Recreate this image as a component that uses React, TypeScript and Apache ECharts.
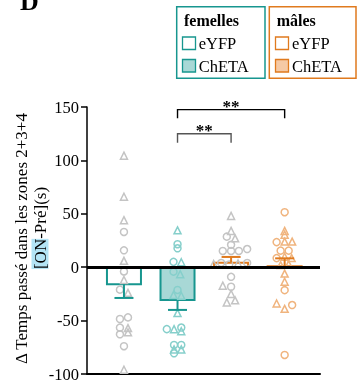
import React, { useEffect, useRef } from 'react';
import * as echarts from 'echarts';

// ---- data ----
const groupNames = ['femelles eYFP', 'femelles ChETA', 'mâles eYFP', 'mâles ChETA'];
const barMeans = [-15.9, -30.7, 4.2, 0.8];
const errorEnds = [-28.8, -40.0, 9.6, 8.3];

const femEyfpValues = [104.4, 66, 44, 33, 15.8, 6, -4, -12, -21, -24, -48.5, -47, -56.6, -57, -62.8, -61, -74, -96];
const femEyfpOffsets = [0, 0, 0, 0, 0, 0, 0, 0, -0.075, 0.075, -0.075, 0.075, -0.075, 0.075, -0.075, 0.075, 0, 0];
const femEyfpShapes = ['t', 't', 't', 'c', 'c', 't', 'c', 't', 'c', 't', 'c', 'c', 'c', 't', 'c', 't', 'c', 't'];

const femChetaValues = [34.5, 21.5, 17.7, 5, 4.6, -4.2, -6.5, -21.3, -26, -26.7, -43, -58, -58, -56.5, -60, -72.8, -72.8, -77, -77, -80.6];
const femChetaOffsets = [0, 0, 0, -0.075, 0.07, -0.075, 0.05, 0, -0.075, 0.07, 0, -0.2, -0.065, 0.07, 0.07, -0.065, 0.07, -0.065, 0.07, -0.065];
const femChetaShapes = ['t', 'c', 'c', 'c', 't', 'c', 't', 'c', 't', 't', 't', 'c', 't', 'c', 't', 'c', 'c', 't', 't', 'c'];

const malEyfpValues = [48, 34, 28.6, 27, 21, 15.2, 15.2, 15.2, 17, 3, 4, 2.5, 3.5, 4, -9, -17.3, -18.3, -25, -33, -31];
const malEyfpOffsets = [0, 0, -0.08, 0.075, 0, -0.155, 0, 0.145, 0.3, -0.325, -0.185, -0.035, 0.13, 0.3, 0, -0.155, 0, 0, -0.08, 0.075];
const malEyfpShapes = ['t', 't', 'c', 't', 'c', 'c', 'c', 'c', 'c', 't', 'c', 'c', 't', 'c', 'c', 't', 'c', 't', 't', 't'];

const malChetaValues = [51.5, 34, 30.5, 23.5, 24, 24, 15.5, 15.5, 8.5, 9.8, 8.5, 2, 2.7, -6, -13.6, -21.5, -34, -39, -35.4, -82.2];
const malChetaOffsets = [0, 0, 0, -0.15, 0, 0.14, -0.075, 0.075, -0.15, 0, 0.13, -0.075, 0.075, 0, 0, 0, -0.15, 0, 0.14, 0];
const malChetaShapes = ['c', 't', 't', 'c', 't', 't', 'c', 'c', 'c', 't', 't', 't', 't', 't', 't', 'c', 't', 't', 'c', 'c'];

const yTicks = [-100, -50, 0, 50, 100, 150];

const bracketFrom = [1, 1];
const bracketTo = [3, 2];
const bracketLevel = [147.5, 125];
const bracketDrop = [139.5, 116.5];
const bracketLabels = ['**', '**'];

// ---- styles ----
const FONT = '"Liberation Serif", "Times New Roman", serif';
const TEAL = '#17968f';
const ORANGE = '#e07a1e';
const barFills = ['#ffffff', '#a8d8d6', '#ffffff', '#f5c9a5'];
const barStrokes = [TEAL, TEAL, ORANGE, ORANGE];
const pointColors = ['#c4c4c4', '#86cfcb', '#c4c4c4', '#f0b47e'];

const groups = [
  { values: femEyfpValues, offsets: femEyfpOffsets, shapes: femEyfpShapes },
  { values: femChetaValues, offsets: femChetaOffsets, shapes: femChetaShapes },
  { values: malEyfpValues, offsets: malEyfpOffsets, shapes: malEyfpShapes },
  { values: malChetaValues, offsets: malChetaOffsets, shapes: malChetaShapes },
];

export default function App() {
  const ref = useRef<HTMLDivElement>(null);
  useEffect(() => {
    if (!ref.current) return;
    const chart = echarts.init(ref.current, null, { renderer: 'svg' });

    const scatterSeries: any[] = [];
    groups.forEach((g, gi) => {
      ['c', 't'].forEach((shape) => {
        const data: number[][] = [];
        g.values.forEach((v, k) => {
          if (g.shapes[k] === shape) data.push([gi + g.offsets[k], v]);
        });
        scatterSeries.push({
          type: 'scatter',
          name: groupNames[gi] + shape,
          data,
          symbol: shape === 'c' ? 'circle' : 'triangle',
          symbolSize: 7,
          z: 3,
          silent: true,
          itemStyle: { color: 'rgba(255,255,255,0)', borderColor: pointColors[gi], borderWidth: 1.5, opacity: 1 },
        });
      });
    });

    const option: any = {
      animation: false,
      grid: { left: 87, right: 37, top: 107, bottom: 11 },
      xAxis: {
        type: 'value',
        min: -0.69,
        max: 3.66,
        axisLine: { show: true, onZero: false, lineStyle: { color: '#000', width: 2 } },
        axisTick: { show: false },
        axisLabel: { show: false },
        splitLine: { show: false },
      },
      yAxis: {
        type: 'value',
        min: yTicks[0],
        max: yTicks[yTicks.length - 1],
        interval: 50,
        axisLine: { show: true, onZero: false, lineStyle: { color: '#000', width: 1.5 } },
        axisTick: { show: true, length: 6, lineStyle: { color: '#000', width: 1.5 } },
        axisLabel: { color: '#000', fontSize: 16.5, fontFamily: FONT, margin: 8 },
        splitLine: { show: false },
      },
      graphic: [
        { type: 'text', x: 20, y: 1, style: { text: 'D', font: `bold 26px ${FONT}`, fill: '#000', textVerticalAlign: 'middle', verticalAlign: 'middle' } },
        // y axis title
        {
          type: 'text', x: 21, y: 238.5, rotation: Math.PI / 2,
          style: { text: 'Δ Temps passé dans les zones 2+3+4', font: `17px ${FONT}`, fill: '#000', textAlign: 'center', align: 'center', textVerticalAlign: 'middle', verticalAlign: 'middle' },
        },
        {
          type: 'text', x: 40, y: 228, rotation: Math.PI / 2,
          style: {
            text: '{hl|[ON}{n|-Pré](s)}', fill: '#000', font: `17px ${FONT}`, textAlign: 'center', align: 'center', textVerticalAlign: 'middle', verticalAlign: 'middle',
            rich: {
              hl: { backgroundColor: '#b3e4f5', fontSize: 17, fontFamily: FONT, fill: '#000', color: '#000' },
              n: { fontSize: 17, fontFamily: FONT, fill: '#000', color: '#000' },
            },
          },
        },
        // legend boxes
        { type: 'rect', shape: { x: 176.7, y: 6.7, width: 88.3, height: 71.6 }, style: { fill: '#fff', stroke: TEAL, lineWidth: 1.5 } },
        { type: 'rect', shape: { x: 269.3, y: 6.7, width: 86.7, height: 71.6 }, style: { fill: '#fff', stroke: ORANGE, lineWidth: 1.5 } },
        { type: 'text', x: 184, y: 20.5, style: { text: 'femelles', font: `bold 16px ${FONT}`, fill: '#000', textVerticalAlign: 'middle', verticalAlign: 'middle' } },
        { type: 'text', x: 276.7, y: 20.5, style: { text: 'mâles', font: `bold 16px ${FONT}`, fill: '#000', textVerticalAlign: 'middle', verticalAlign: 'middle' } },
        { type: 'rect', shape: { x: 182.5, y: 37, width: 13, height: 12.5 }, style: { fill: barFills[0], stroke: barStrokes[0], lineWidth: 1.3 } },
        { type: 'rect', shape: { x: 182.5, y: 59.5, width: 13, height: 12.5 }, style: { fill: barFills[1], stroke: barStrokes[1], lineWidth: 1.3 } },
        { type: 'rect', shape: { x: 275.5, y: 37, width: 13, height: 12.5 }, style: { fill: barFills[2], stroke: barStrokes[2], lineWidth: 1.3 } },
        { type: 'rect', shape: { x: 275.5, y: 59.5, width: 13, height: 12.5 }, style: { fill: barFills[3], stroke: barStrokes[3], lineWidth: 1.3 } },
        { type: 'text', x: 198.7, y: 43.5, style: { text: 'eYFP', font: `16.5px ${FONT}`, fill: '#000', textVerticalAlign: 'middle', verticalAlign: 'middle' } },
        { type: 'text', x: 198.7, y: 66, style: { text: 'ChETA', font: `16.5px ${FONT}`, fill: '#000', textVerticalAlign: 'middle', verticalAlign: 'middle' } },
        { type: 'text', x: 292, y: 43.5, style: { text: 'eYFP', font: `16.5px ${FONT}`, fill: '#000', textVerticalAlign: 'middle', verticalAlign: 'middle' } },
        { type: 'text', x: 292, y: 66, style: { text: 'ChETA', font: `16.5px ${FONT}`, fill: '#000', textVerticalAlign: 'middle', verticalAlign: 'middle' } },
      ],
      series: [
        {
          type: 'custom',
          name: 'bars',
          z: 2,
          silent: true,
          data: barMeans.map((m, i) => [i, m]),
          renderItem: (params: any, api: any) => {
            const i = api.value(0);
            const m = api.value(1);
            const c = api.coord([i, m]);
            const z0 = api.coord([i, 0]);
            const w = 34;
            return {
              type: 'rect',
              shape: { x: c[0] - w / 2, y: Math.min(c[1], z0[1]), width: w, height: Math.abs(c[1] - z0[1]) },
              style: { fill: barFills[i], stroke: barStrokes[i], lineWidth: 2 },
            };
          },
        },
        ...scatterSeries,
        {
          type: 'custom',
          name: 'errors',
          z: 4,
          silent: true,
          data: barMeans.map((m, i) => [i, m, errorEnds[i]]),
          renderItem: (params: any, api: any) => {
            const i = api.value(0);
            const c = api.coord([i, api.value(1)]);
            const e = api.coord([i, api.value(2)]);
            const cap = 9.5;
            const st = { stroke: barStrokes[i], lineWidth: 2, fill: 'none' };
            return {
              type: 'group',
              children: [
                { type: 'line', shape: { x1: c[0], y1: c[1], x2: e[0], y2: e[1] }, style: st },
                { type: 'line', shape: { x1: e[0] - cap, y1: e[1], x2: e[0] + cap, y2: e[1] }, style: st },
              ],
            };
          },
          markLine: {
            silent: true,
            symbol: 'none',
            label: { show: false },
            lineStyle: { color: '#000', width: 3, type: 'solid' },
            data: [{ yAxis: 0 }],
          },
        },
        {
          type: 'custom',
          name: 'brackets',
          z: 5,
          silent: true,
          clip: false,
          data: bracketFrom.map((f, k) => [f, bracketTo[k], bracketLevel[k], bracketDrop[k], k]),
          renderItem: (params: any, api: any) => {
            const k = api.value(4);
            const a = api.coord([api.value(0), api.value(2)]);
            const b = api.coord([api.value(1), api.value(2)]);
            const d = api.coord([api.value(0), api.value(3)]);
            const color = k === 0 ? '#000' : '#555';
            return {
              type: 'group',
              children: [
                {
                  type: 'polyline',
                  shape: { points: [[a[0], d[1]], [a[0], a[1]], [b[0], b[1]], [b[0], d[1]]] },
                  style: { stroke: color, lineWidth: 1.4, fill: 'none' },
                },
                {
                  type: 'text',
                  x: (a[0] + b[0]) / 2,
                  y: a[1] - 3,
                  style: {
                    text: bracketLabels[k], font: `bold 17px ${FONT}`, fill: '#000',
                    textAlign: 'center', align: 'center', textVerticalAlign: 'middle', verticalAlign: 'middle',
                  },
                },
              ],
            };
          },
        },
      ],
    };
    chart.setOption(option);
    return () => chart.dispose();
  }, []);
  return <div ref={ref} style={{ position: 'fixed', left: 0, top: 0, width: 357, height: 385 }} />;
}
